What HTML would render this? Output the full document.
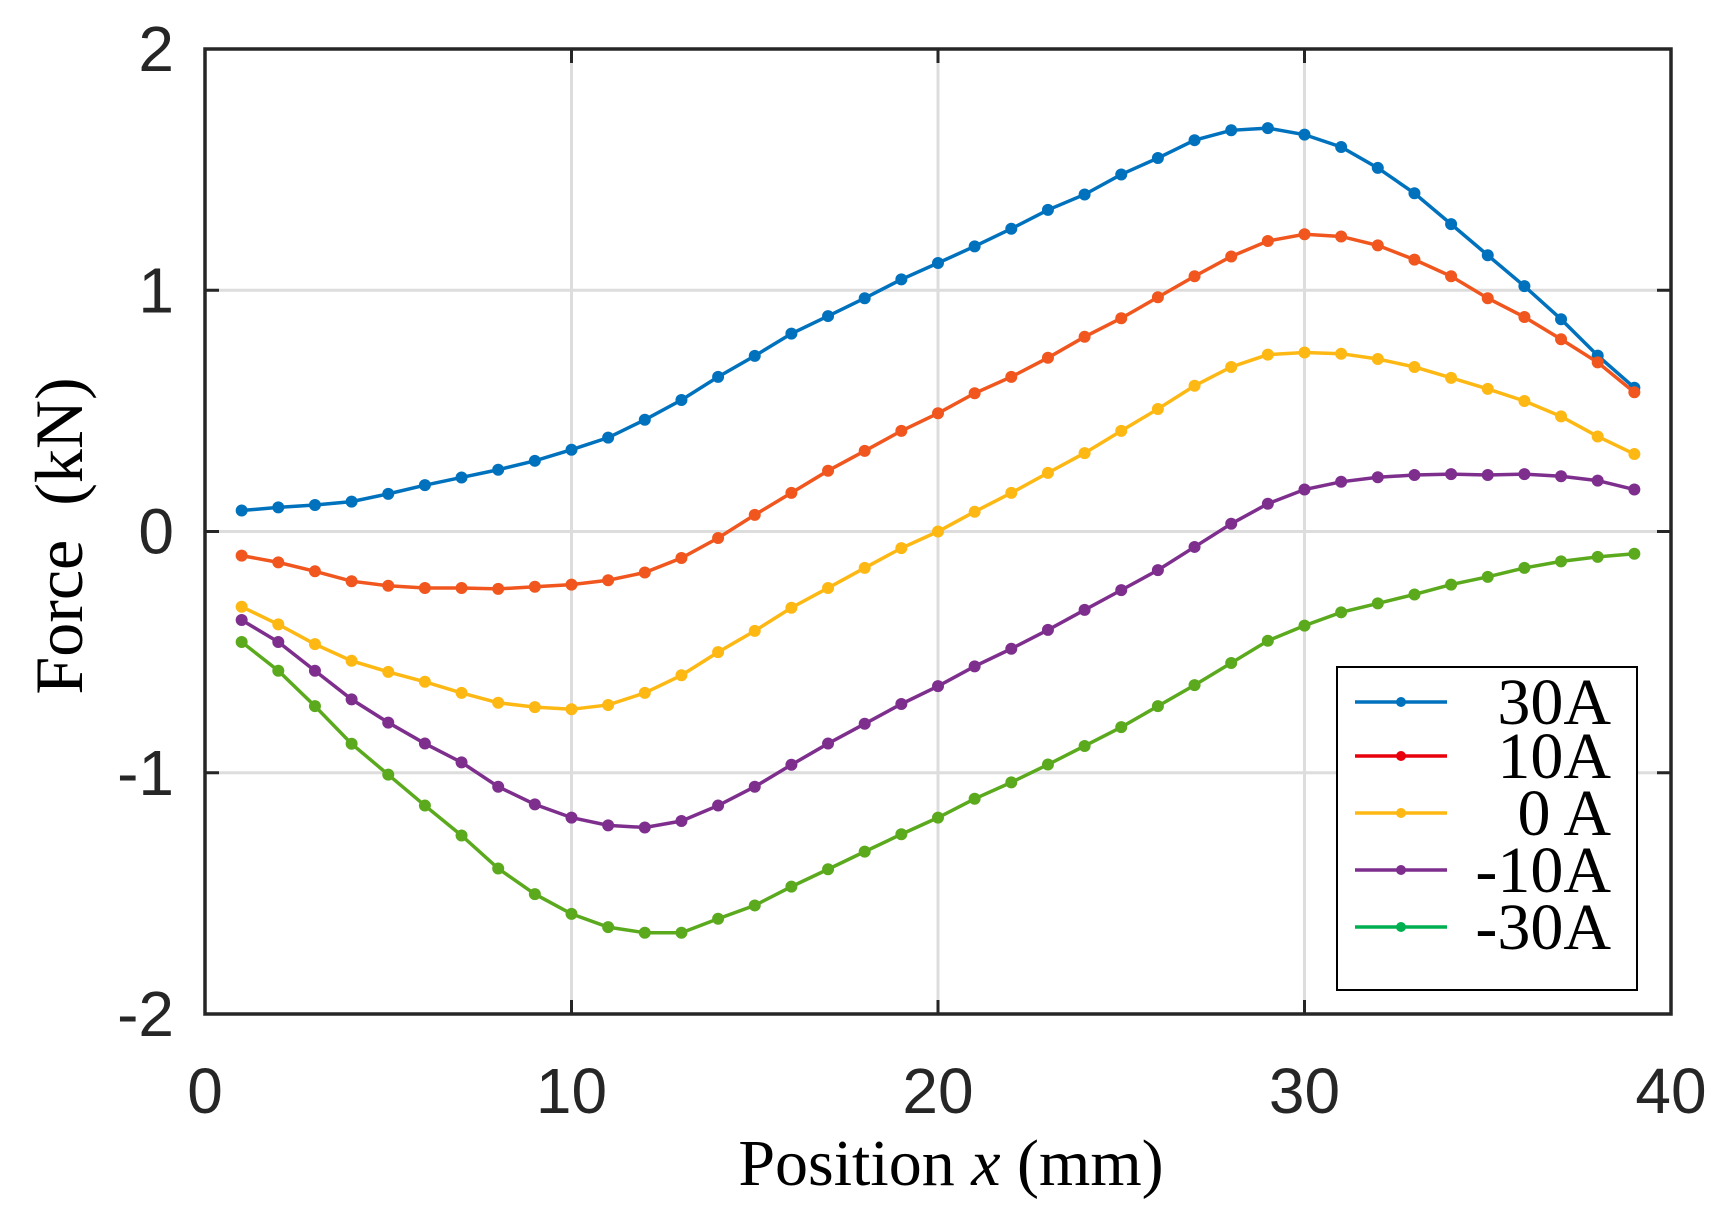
<!DOCTYPE html>
<html><head><meta charset="utf-8"><style>html,body{margin:0;padding:0;background:#fff;}</style></head>
<body>
<svg id="s" width="1731" height="1219" xmlns="http://www.w3.org/2000/svg"></svg>
<script>
const L=205,R=1671,T=49,B=1014;
const X=x=>L+(x/40)*(R-L), Y=y=>T+(2-y)/4*(B-T);
const ser=[
["#0072BD",[0.087,0.10,0.11,0.124,0.156,0.192,0.224,0.256,0.293,0.339,0.389,0.463,0.545,0.641,0.728,0.82,0.893,0.967,1.045,1.113,1.182,1.255,1.333,1.397,1.48,1.548,1.622,1.663,1.672,1.645,1.594,1.507,1.402,1.274,1.145,1.017,0.88,0.729,0.596]],
["#F0561E",[-0.1,-0.128,-0.165,-0.206,-0.225,-0.234,-0.234,-0.238,-0.229,-0.22,-0.202,-0.17,-0.11,-0.027,0.069,0.16,0.252,0.334,0.417,0.49,0.573,0.641,0.72,0.807,0.884,0.971,1.058,1.14,1.204,1.232,1.223,1.186,1.127,1.058,0.967,0.889,0.797,0.701,0.577]],
["#FDB813",[-0.312,-0.385,-0.467,-0.536,-0.582,-0.623,-0.669,-0.71,-0.728,-0.737,-0.719,-0.669,-0.596,-0.5,-0.412,-0.316,-0.234,-0.151,-0.069,0,0.082,0.16,0.243,0.325,0.417,0.508,0.604,0.682,0.733,0.742,0.737,0.715,0.682,0.637,0.591,0.541,0.477,0.394,0.321]],
["#7E2F8E",[-0.367,-0.458,-0.577,-0.696,-0.792,-0.879,-0.957,-1.058,-1.131,-1.186,-1.218,-1.227,-1.2,-1.136,-1.058,-0.967,-0.879,-0.797,-0.715,-0.641,-0.559,-0.486,-0.408,-0.325,-0.243,-0.16,-0.064,0.032,0.115,0.174,0.206,0.225,0.234,0.238,0.234,0.238,0.229,0.211,0.174]],
["#5BAA1E",[-0.458,-0.577,-0.724,-0.88,-1.008,-1.136,-1.26,-1.397,-1.503,-1.585,-1.64,-1.663,-1.663,-1.605,-1.55,-1.472,-1.4,-1.327,-1.255,-1.186,-1.108,-1.04,-0.966,-0.889,-0.811,-0.724,-0.637,-0.545,-0.453,-0.39,-0.335,-0.298,-0.261,-0.22,-0.188,-0.151,-0.124,-0.105,-0.092]]
];
let h='';
for(const v of [10,20,30]) h+=`<line x1="${X(v)}" y1="${T}" x2="${X(v)}" y2="${B}" stroke="#ddd" stroke-width="3"/>`;
for(const v of [-1,0,1]) h+=`<line x1="${L}" y1="${Y(v)}" x2="${R}" y2="${Y(v)}" stroke="#ddd" stroke-width="3"/>`;
for(const [c,d] of ser){
 h+=`<polyline fill="none" stroke="${c}" stroke-width="3.5" points="${d.map((v,i)=>X(i+1)+','+Y(v)).join(' ')}"/>`;
 d.forEach((v,i)=>h+=`<circle cx="${X(i+1)}" cy="${Y(v)}" r="6" fill="${c}"/>`);
}
h+=`<rect x="${L}" y="${T}" width="${R-L}" height="${B-T}" fill="none" stroke="#262626" stroke-width="3.5"/>`;
for(const v of [10,20,30]){h+=`<line x1="${X(v)}" y1="${T}" x2="${X(v)}" y2="${T+14}" stroke="#262626" stroke-width="3"/><line x1="${X(v)}" y1="${B}" x2="${X(v)}" y2="${B-14}" stroke="#262626" stroke-width="3"/>`;}
for(const v of [-1,0,1]){h+=`<line x1="${L}" y1="${Y(v)}" x2="${L+14}" y2="${Y(v)}" stroke="#262626" stroke-width="3"/><line x1="${R}" y1="${Y(v)}" x2="${R-14}" y2="${Y(v)}" stroke="#262626" stroke-width="3"/>`;}
for(const v of [0,10,20,30,40]) h+=`<text x="${X(v)}" y="1113" font-family="Liberation Sans,sans-serif" font-size="64" fill="#262626" text-anchor="middle">${v}</text>`;
for(const v of [2,1,0,-1,-2]) h+=`<text x="174" y="${Y(v)+22}" font-family="Liberation Sans,sans-serif" font-size="64" fill="#262626" text-anchor="end">${v}</text>`;
h+=`<text x="951" y="1185" font-family="Liberation Serif,serif" font-size="66" text-anchor="middle">Position <tspan font-style="italic">x</tspan> (mm)</text>`;
h+=`<text transform="translate(82,536) rotate(-90)" font-family="Liberation Serif,serif" font-size="68" text-anchor="middle" xml:space="preserve">Force  (kN)</text>`;
h+=`<rect x="1337" y="667" width="300" height="323" fill="#fff" stroke="#000" stroke-width="2"/>`;
const lc=["#0072BD","#E8000B","#FDB813","#7E2F8E","#00B050"],lt=["30A","10A","0 A","-10A","-30A"],ly=[702,756,813,870,927];
for(let i=0;i<5;i++){h+=`<line x1="1355" y1="${ly[i]}" x2="1447" y2="${ly[i]}" stroke="${lc[i]}" stroke-width="3.5"/><circle cx="1401" cy="${ly[i]}" r="5" fill="${lc[i]}"/><text x="1611" y="${ly[i]+22}" font-family="Liberation Serif,serif" font-size="66" text-anchor="end">${lt[i]}</text>`;}
document.getElementById('s').innerHTML=h;
</script>
</body></html>
